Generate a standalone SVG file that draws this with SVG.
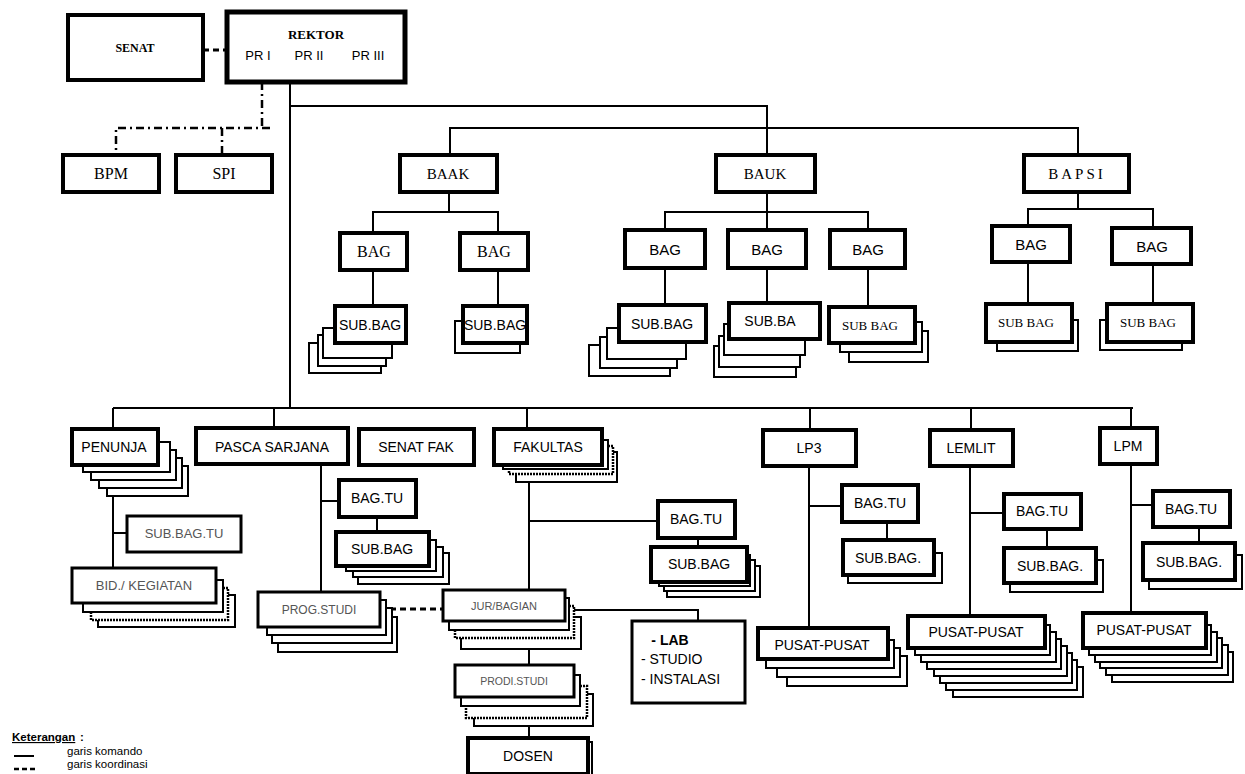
<svg xmlns="http://www.w3.org/2000/svg" width="1245" height="774" viewBox="0 0 1245 774">
<style>
  .m { fill: #fff; stroke: #000; stroke-width: 4; }
  .r { fill: #fff; stroke: #000; stroke-width: 5; }
  .t { fill: #fff; stroke: #000; stroke-width: 3; }
  .s { fill: #fff; stroke: #000; stroke-width: 2; }
  .d { fill: #fff; stroke: #000; stroke-width: 2.5; stroke-dasharray: 2 1; }
  .ln { fill: none; stroke: #000; stroke-width: 2; }
  .dash { fill: none; stroke: #000; stroke-width: 3; stroke-dasharray: 6 4; }
  .dd { fill: none; stroke: #000; stroke-width: 2.5; stroke-dasharray: 8 4 2 4; }
  text { font-family: "Liberation Sans", Arial, sans-serif; font-size: 14px; fill: #000; text-anchor: middle; }
  .serif { font-family: "Liberation Serif", "Times New Roman", serif; }
  .sb { font-family: "Liberation Serif", "Times New Roman", serif; font-weight: bold; font-size: 12px; }
  .lt { fill: #555; font-size: 12px; }
  .sm { fill: #555; font-size: 10.5px; }
  .lg { font-size: 11.5px; text-anchor: start; }
</style>

<rect width="1245" height="774" fill="#fff"/>

<!-- connectors -->
<g id="connectors">
  <line class="dash" x1="203" y1="50" x2="227" y2="50"/>
  <path class="dd" d="M262,82 V128 M270,128 H116 V155 M222,128 V155"/>
  <path class="ln" d="M290,82 V408 M290,106 H767 V155 M450,155 V128 H1078 V155"/>
  <!-- BAAK -->
  <path class="ln" d="M449,192 V212 M373,233 V212 H498 V233 M373,270 V306 M498,270 V306"/>
  <!-- BAUK -->
  <path class="ln" d="M767,192 V230 M665,230 V212 H868 V230 M665,268 V305 M767,268 V303 M868,268 V307"/>
  <!-- BAPSI -->
  <path class="ln" d="M1078,192 V209 M1028,226 V209 H1153 V228 M1028,262 V304 M1153,264 V304"/>
  <!-- lower level -->
  <path class="ln" d="M113,408 H1133 M113,408 V429 M274,408 V428 M527,408 V429 M810,408 V430 M971,408 V430 M1131,408 V428"/>
  <path class="ln" d="M113,465 V568 M113,533 H127"/>
  <path class="ln" d="M321,464 V592 M321,501 H339 M377,517 V532"/>
  <path class="ln" d="M529,465 V590 M529,521 H658 M698,538 V547"/>
  <path class="ln" d="M565,610 H698 V621 M529,621 V665 M529,697 V738"/>
  <line class="dash" x1="380" y1="609" x2="443" y2="609"/>
  <path class="ln" d="M809,466 V628 M809,506 H842 M887,522 V540"/>
  <path class="ln" d="M970,466 V616 M970,513 H1004 M1047,529 V548"/>
  <path class="ln" d="M1131,464 V613 M1131,505 H1153 M1199,527 V543"/>
</g>

<!-- top level -->
<g id="senat">
  <rect class="m" x="68" y="15" width="135" height="65"/>
  <text class="sb" x="135" y="52">SENAT</text>
</g>
<g id="rektor">
  <rect class="r" x="227" y="12" width="178" height="70"/>
  <text class="sb" x="316" y="39" style="font-size:13px">REKTOR</text>
  <text x="258" y="60" style="font-size:13px">PR I</text>
  <text x="309" y="60" style="font-size:13px">PR II</text>
  <text x="368" y="60" style="font-size:13px">PR III</text>
</g>
<g id="bpm">
  <rect class="m" x="63" y="155" width="96" height="37"/>
  <text class="serif" x="111" y="179" style="font-size:16px">BPM</text>
</g>
<g id="spi">
  <rect class="m" x="176" y="155" width="96" height="37"/>
  <text class="serif" x="224" y="179" style="font-size:16px">SPI</text>
</g>
<g id="baak">
  <rect class="m" x="400" y="155" width="97" height="37"/>
  <text class="serif" x="448" y="179" style="font-size:15px">BAAK</text>
</g>
<g id="bauk">
  <rect class="m" x="716" y="155" width="99" height="37"/>
  <text class="serif" x="765" y="179" style="font-size:15px">BAUK</text>
</g>
<g id="bapsi">
  <rect class="m" x="1024" y="155" width="105" height="37"/>
  <text class="serif" x="1077" y="179" style="font-size:15px;letter-spacing:3px">BAPSI</text>
</g>

<!-- BAAK sections -->
<g id="baak-bag-1">
  <rect class="m" x="340" y="233" width="67" height="37"/>
  <text class="serif" x="374" y="257" style="font-size:16px">BAG</text>
</g>
<g id="baak-bag-2">
  <rect class="m" x="460" y="233" width="68" height="37"/>
  <text class="serif" x="494" y="257" style="font-size:16px">BAG</text>
</g>
<g id="baak-subbag-1">
  <rect class="s" x="309" y="343" width="72" height="30"/>
  <rect class="s" x="318" y="335" width="68" height="31"/>
  <rect class="s" x="323" y="328" width="69" height="30"/>
  <rect class="m" x="335" y="306" width="71" height="37"/>
  <text x="370" y="330">SUB.BAG</text>
</g>
<g id="baak-subbag-2">
  <rect class="s" x="455" y="321" width="65" height="32"/>
  <rect class="m" x="463" y="306" width="64" height="37"/>
  <text x="495" y="330">SUB.BAG</text>
</g>

<!-- BAUK sections -->
<g id="bauk-bag-1">
  <rect class="m" x="625" y="230" width="80" height="38"/>
  <text x="665" y="255" style="font-size:15px">BAG</text>
</g>
<g id="bauk-bag-2">
  <rect class="m" x="728" y="230" width="78" height="38"/>
  <text x="767" y="255" style="font-size:15px">BAG</text>
</g>
<g id="bauk-bag-3">
  <rect class="m" x="830" y="230" width="75" height="38"/>
  <text x="868" y="255" style="font-size:15px">BAG</text>
</g>
<g id="bauk-subbag-1">
  <rect class="s" x="589" y="345" width="81" height="31"/>
  <rect class="s" x="600" y="337" width="77" height="31"/>
  <rect class="s" x="607" y="328" width="79" height="31"/>
  <rect class="m" x="619" y="305" width="87" height="37"/>
  <text x="662" y="329">SUB.BAG</text>
</g>
<g id="bauk-subbag-2">
  <rect class="s" x="714" y="346" width="82" height="31"/>
  <rect class="s" x="719" y="336" width="81" height="31"/>
  <rect class="s" x="724" y="324" width="81" height="31"/>
  <rect class="m" x="729" y="303" width="91" height="36"/>
  <text x="770" y="326">SUB.BA</text>
</g>
<g id="bauk-subbag-3">
  <rect class="s" x="849" y="331" width="79" height="31"/>
  <rect class="s" x="840" y="322" width="82" height="30"/>
  <rect class="m" x="829" y="307" width="86" height="36"/>
  <text class="serif" x="870" y="330" style="font-size:13px">SUB BAG</text>
</g>

<!-- BAPSI sections -->
<g id="bapsi-bag-1">
  <rect class="m" x="992" y="226" width="78" height="36"/>
  <text x="1031" y="250" style="font-size:15px">BAG</text>
</g>
<g id="bapsi-bag-2">
  <rect class="m" x="1112" y="228" width="79" height="36"/>
  <text x="1152" y="252" style="font-size:15px">BAG</text>
</g>
<g id="bapsi-subbag-1">
  <rect class="s" x="997" y="320" width="81" height="31"/>
  <rect class="m" x="986" y="304" width="86" height="38"/>
  <text class="serif" x="1026" y="327" style="font-size:13px">SUB BAG</text>
</g>
<g id="bapsi-subbag-2">
  <rect class="s" x="1100" y="320" width="82" height="30"/>
  <rect class="m" x="1107" y="304" width="86" height="38"/>
  <text class="serif" x="1148" y="327" style="font-size:13px">SUB BAG</text>
</g>

<!-- PENUNJANG -->
<g id="penunja">
  <rect class="s" x="107" y="466" width="81" height="30"/>
  <rect class="s" x="99" y="458" width="83" height="30"/>
  <rect class="s" x="91" y="450" width="85" height="30"/>
  <rect class="s" x="83" y="442" width="87" height="30"/>
  <rect class="m" x="72" y="429" width="86" height="36"/>
  <text x="114" y="452">PENUNJA</text>
</g>
<g id="subbag-tu">
  <rect class="t" x="127" y="516" width="114" height="36"/>
  <text class="lt" x="184" y="538" style="font-size:13px">SUB.BAG.TU</text>
</g>
<g id="bid-kegiatan">
  <rect class="s" x="98" y="595" width="137" height="32"/>
  <rect class="d" x="91" y="588" width="137" height="32"/>
  <rect class="s" x="83" y="580" width="140" height="32"/>
  <rect class="t" x="72" y="568" width="144" height="35"/>
  <text class="lt" x="144" y="590" style="font-size:13px">BID./ KEGIATAN</text>
</g>

<!-- PASCA SARJANA -->
<g id="pasca">
  <rect class="m" x="196" y="428" width="152" height="36"/>
  <text x="272" y="452">PASCA SARJANA</text>
</g>
<g id="pasca-bagtu">
  <rect class="m" x="339" y="480" width="77" height="37"/>
  <text x="377" y="503">BAG.TU</text>
</g>
<g id="pasca-subbag">
  <rect class="s" x="358" y="553" width="91" height="31"/>
  <rect class="s" x="353" y="547" width="90" height="30"/>
  <rect class="s" x="346" y="540" width="90" height="31"/>
  <rect class="m" x="336" y="532" width="93" height="34"/>
  <text x="382" y="554">SUB.BAG</text>
</g>
<g id="prog-studi">
  <rect class="s" x="278" y="617" width="119" height="35"/>
  <rect class="s" x="272" y="608" width="120" height="35"/>
  <rect class="s" x="267" y="600" width="119" height="35"/>
  <rect class="t" x="258" y="592" width="122" height="35"/>
  <text class="lt" x="319" y="614">PROG.STUDI</text>
</g>

<!-- FAKULTAS -->
<g id="senat-fak">
  <rect class="m" x="359" y="429" width="115" height="36"/>
  <text x="416" y="452">SENAT FAK</text>
</g>
<g id="fakultas">
  <rect class="s" x="516" y="452" width="101" height="30"/>
  <rect class="d" x="509" y="446" width="104" height="28"/>
  <rect class="s" x="503" y="440" width="105" height="29"/>
  <rect class="m" x="494" y="429" width="108" height="36"/>
  <text x="548" y="452">FAKULTAS</text>
</g>
<g id="fak-bagtu">
  <rect class="m" x="658" y="501" width="77" height="37"/>
  <text x="696" y="524">BAG.TU</text>
</g>
<g id="fak-subbag">
  <rect class="s" x="667" y="566" width="93" height="31"/>
  <rect class="s" x="664" y="560" width="91" height="31"/>
  <rect class="s" x="659" y="555" width="91" height="31"/>
  <rect class="m" x="651" y="547" width="96" height="35"/>
  <text x="699" y="569">SUB.BAG</text>
</g>
<g id="jur-bagian">
  <rect class="s" x="461" y="617" width="120" height="32"/>
  <rect class="d" x="455" y="606" width="119" height="32"/>
  <rect class="s" x="449" y="598" width="120" height="32"/>
  <rect class="t" x="443" y="590" width="122" height="31"/>
  <text class="sm" x="504" y="610" style="font-size:11px">JUR/BAGIAN</text>
</g>
<g id="lab">
  <rect class="t" x="632" y="621" width="113" height="82"/>
  <text x="670" y="645" style="font-weight:bold">- LAB</text>
  <text x="641" y="664" style="text-anchor:start">- STUDIO</text>
  <text x="641" y="684" style="text-anchor:start">- INSTALASI</text>
</g>
<g id="prodi-studi">
  <rect class="s" x="474" y="694" width="119" height="32"/>
  <rect class="d" x="466" y="686" width="121" height="32"/>
  <rect class="s" x="461" y="675" width="119" height="31"/>
  <rect class="t" x="455" y="665" width="119" height="32"/>
  <text class="sm" x="514" y="685">PRODI.STUDI</text>
</g>
<g id="dosen">
  <rect class="s" x="472" y="742" width="120" height="40"/>
  <rect class="m" x="468" y="738" width="120" height="36"/>
  <text x="528" y="761">DOSEN</text>
</g>

<!-- LP3 -->
<g id="lp3">
  <rect class="m" x="763" y="430" width="93" height="36"/>
  <text x="809" y="453">LP3</text>
</g>
<g id="lp3-bagtu">
  <rect class="m" x="842" y="485" width="76" height="37"/>
  <text x="880" y="508">BAG.TU</text>
</g>
<g id="lp3-subbag">
  <rect class="s" x="848" y="553" width="94" height="30"/>
  <rect class="m" x="843" y="540" width="91" height="35"/>
  <text x="888" y="563">SUB.BAG.</text>
</g>
<g id="lp3-pusat">
  <rect class="s" x="787" y="656" width="120" height="30"/>
  <rect class="s" x="777" y="648" width="123" height="29"/>
  <rect class="s" x="766" y="640" width="128" height="28"/>
  <rect class="m" x="758" y="628" width="130" height="31"/>
  <text x="822" y="650">PUSAT-PUSAT</text>
</g>

<!-- LEMLIT -->
<g id="lemlit">
  <rect class="m" x="930" y="430" width="83" height="36"/>
  <text x="971" y="453">LEMLIT</text>
</g>
<g id="lemlit-bagtu">
  <rect class="m" x="1004" y="494" width="77" height="35"/>
  <text x="1042" y="516">BAG.TU</text>
</g>
<g id="lemlit-subbag">
  <rect class="s" x="1010" y="560" width="93" height="32"/>
  <rect class="m" x="1004" y="548" width="92" height="35"/>
  <text x="1050" y="571">SUB.BAG.</text>
</g>
<g id="lemlit-pusat">
  <rect class="s" x="953" y="667" width="130" height="30"/>
  <rect class="s" x="946" y="660" width="131" height="30"/>
  <rect class="s" x="940" y="653" width="132" height="30"/>
  <rect class="s" x="934" y="646" width="133" height="30"/>
  <rect class="s" x="927" y="639" width="134" height="30"/>
  <rect class="s" x="921" y="632" width="135" height="30"/>
  <rect class="s" x="915" y="625" width="135" height="30"/>
  <rect class="m" x="908" y="616" width="137" height="32"/>
  <text x="976" y="637">PUSAT-PUSAT</text>
</g>

<!-- LPM -->
<g id="lpm">
  <rect class="m" x="1100" y="428" width="57" height="36"/>
  <text x="1128" y="451">LPM</text>
</g>
<g id="lpm-bagtu">
  <rect class="m" x="1153" y="491" width="77" height="36"/>
  <text x="1191" y="514">BAG.TU</text>
</g>
<g id="lpm-subbag">
  <rect class="s" x="1149" y="555" width="93" height="34"/>
  <rect class="m" x="1143" y="543" width="92" height="37"/>
  <text x="1189" y="567">SUB.BAG.</text>
</g>
<g id="lpm-pusat">
  <rect class="s" x="1112" y="652" width="121" height="30"/>
  <rect class="s" x="1106" y="645" width="122" height="30"/>
  <rect class="s" x="1100" y="638" width="122" height="30"/>
  <rect class="s" x="1095" y="632" width="122" height="30"/>
  <rect class="s" x="1089" y="625" width="122" height="30"/>
  <rect class="m" x="1083" y="613" width="123" height="35"/>
  <text x="1144" y="635">PUSAT-PUSAT</text>
</g>

<!-- legend -->
<g id="legend">
  <text class="lg" x="12" y="741" style="font-weight:bold;text-decoration:underline">Keterangan</text>
  <text class="lg" x="80" y="741" style="font-weight:bold">:</text>
  <line x1="14" y1="756" x2="34" y2="756" stroke="#000" stroke-width="2"/>
  <text class="lg" x="67" y="755">garis komando</text>
  <line x1="14" y1="769" x2="36" y2="769" stroke="#000" stroke-width="2.5" stroke-dasharray="5 3"/>
  <text class="lg" x="67" y="768">garis koordinasi</text>
</g>
</svg>
